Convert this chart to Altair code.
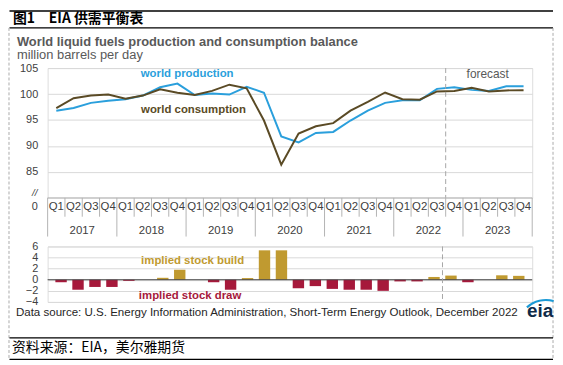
import altair as alt
import pandas as pd

# ---------------- data ----------------
quarters = ["Q1", "Q2", "Q3", "Q4"] * 7
years = ["2017", "2018", "2019", "2020", "2021", "2022", "2023"]
production = [96.8, 97.3, 98.3, 98.7, 99.0, 99.7, 101.3, 102.0,
              99.8, 100.1, 99.9, 101.4, 100.25, 91.85, 90.7, 92.5,
              92.7, 94.9, 96.8, 98.3, 98.8, 98.8, 101.0, 101.3,
              100.8, 100.6, 101.5, 101.5]
consumption = [97.3, 99.2, 99.7, 99.9, 99.1, 99.7, 100.9, 100.25,
               99.8, 100.6, 101.8, 101.1, 94.9, 86.4, 92.4, 93.8,
               94.4, 96.8, 98.5, 100.3, 99.0, 98.9, 100.5, 100.6,
               101.2, 100.5, 100.7, 100.75]
stock_change = [-0.45, -1.8, -1.3, -1.3, -0.2, 0.0, 0.35, 1.8,
                0.0, -0.45, -1.8, 0.3, 5.3, 5.3, -1.55, -1.15,
                -1.65, -1.8, -1.8, -2.0, -0.3, -0.3, 0.5, 0.75,
                -0.45, 0.0, 0.8, 0.7]
y_ticks_top = [85, 90, 95, 100, 105]
y_ticks_bottom = [-4, -2, 0, 2, 4, 6]
forecast_start = [23]

HEADER = "图1　EIA 供需平衡表"
TITLE = "World liquid fuels production and consumption balance"
SUBTITLE = "million barrels per day"
SOURCE = "Data source: U.S. Energy Information Administration, Short-Term Energy Outlook, December 2022"
FOOTER = "资料来源：EIA，美尔雅期货"

BLUE = "#2a9fdc"
BROWN = "#5a4a25"
GOLD = "#c09a30"
CRIMSON = "#a6193b"
GRID = "#d9d9d9"
AXIS = "#b3b3b3"
TXT = "#404040"
FONT = "Liberation Sans"
CJK = "Noto Sans CJK SC"

W, H1, H2 = 489, 131, 56
L, R = -38.5, 510          # left / right page frame (relative to the upper plot)

n = len(quarters)
df = pd.DataFrame({
    "x": [i + 0.5 for i in range(n)],
    "q": quarters,
    "val": stock_change,
    "base": [0] * n,
})
long = pd.concat([
    pd.DataFrame({"x": df["x"], "val": production, "series": "production"}),
    pd.DataFrame({"x": df["x"], "val": consumption, "series": "consumption"}),
])
years_df = pd.DataFrame({"year": years, "x": [4 * k + 2 for k in range(len(years))]})
year_b = pd.DataFrame({"b": [4 * k for k in range(len(years) + 1)]})
q_b = pd.DataFrame({"b": [k for k in range(1, n) if k % 4]})
fc = pd.DataFrame({"b": forecast_start})
one = pd.DataFrame({"a": [0]})

xs = alt.Scale(domain=[0, n], nice=False, zero=False)


def X(f):
    return alt.X(f, type="quantitative", scale=xs, axis=None)


top_axis = alt.Axis(values=y_ticks_top, grid=True, gridColor=GRID, domain=False,
                    ticks=False, labelPadding=10, labelFontSize=11, labelColor=TXT,
                    labelFont=FONT, title=None)
top_scale = alt.Scale(domain=[80, 105], nice=False, zero=False)


def YT(f):
    return alt.Y(f, type="quantitative", scale=top_scale, axis=top_axis)


line_prod = alt.Chart(long).transform_filter(alt.datum.series == "production").mark_line(
    color=BLUE, strokeWidth=2).encode(x=X("x"), y=YT("val"))
line_cons = alt.Chart(long).transform_filter(alt.datum.series == "consumption").mark_line(
    color=BROWN, strokeWidth=2).encode(x=X("x"), y=YT("val"))

ann_top = pd.DataFrame({"t": ["world production", "world consumption"],
                        "x": [8.06, 8.43], "val": [103.85, 97.0],
                        "c": [BLUE, BROWN]})
ann_top_txt = alt.Chart(ann_top).mark_text(font=FONT, fontSize=11.5, fontWeight="bold").encode(
    x=X("x"), y=YT("val"), text="t:N",
    color=alt.Color("c:N", scale=None))
fc_txt = alt.Chart(pd.DataFrame({"t": ["forecast"], "x": [25.43], "val": [103.9]})).mark_text(
    font=FONT, fontSize=12, color="#595959").encode(x=X("x"), y=YT("val"), text="t:N")

fc_rule_top = alt.Chart(fc).mark_rule(color="#a6a6a6", strokeDash=[5, 3]).encode(x=X("b"))
axis_line = alt.Chart(one).mark_rule(color=AXIS).encode(
    x=alt.value(0), x2=alt.value(W), y=alt.value(H1))
q_sep = alt.Chart(q_b).mark_rule(color=AXIS).encode(
    x=X("b"), y=alt.value(H1), y2=alt.value(H1 + 19))
y_sep = alt.Chart(year_b).mark_rule(color=AXIS).encode(
    x=X("b"), y=alt.value(H1), y2=alt.value(H1 + 39))
q_lab = alt.Chart(df).mark_text(font=FONT, fontSize=11.5, color=TXT).encode(
    x=X("x"), y=alt.value(H1 + 9.5), text="q:N")
yr_lab = alt.Chart(years_df).mark_text(font=FONT, fontSize=11.5, color=TXT).encode(
    x=X("x"), y=alt.value(H1 + 33), text="year:N")
zero_lab = alt.Chart(one).mark_text(text="0", font=FONT, fontSize=11, color=TXT, align="right").encode(
    x=alt.value(-10), y=alt.value(H1 + 9))
brk_lab = alt.Chart(one).mark_text(text="//", font=FONT, fontSize=10, fontStyle="italic",
                                   color=TXT, align="center").encode(
    x=alt.value(-13), y=alt.value(H1 - 5))

# page decorations (relative to the upper plot origin)
hline1 = alt.Chart(one).mark_rule(color="black", strokeWidth=1.5).encode(
    x=alt.value(L), x2=alt.value(R), y=alt.value(-57.5))
hline2 = alt.Chart(one).mark_rule(color="black", strokeWidth=1.2).encode(
    x=alt.value(L), x2=alt.value(R), y=alt.value(-40.5))
vdash_l = alt.Chart(one).mark_rule(color="#aaaaaa", strokeDash=[3, 2]).encode(
    x=alt.value(-39), y=alt.value(-40.5), y2=alt.value(294))
vdash_r = alt.Chart(one).mark_rule(color="#aaaaaa", strokeDash=[3, 2]).encode(
    x=alt.value(R), y=alt.value(-40.5), y2=alt.value(294))
header = alt.Chart(one).mark_text(text=HEADER, font=CJK, fontSize=14, fontWeight="bold",
                                  color="black", align="left", baseline="middle").encode(
    x=alt.value(-35), y=alt.value(-49.5))
title = alt.Chart(one).mark_text(text=TITLE, font=FONT, fontSize=13, fontWeight="bold",
                                 color="#595959", align="left", baseline="middle").encode(
    x=alt.value(-31), y=alt.value(-26))
subtitle = alt.Chart(one).mark_text(text=SUBTITLE, font=FONT, fontSize=13,
                                    color="#595959", align="left", baseline="middle").encode(
    x=alt.value(-31), y=alt.value(-13))

upper = alt.layer(
    line_prod, line_cons,
    hline1, hline2, vdash_l, vdash_r, header, title, subtitle,
    fc_rule_top, axis_line, q_sep, y_sep, q_lab, yr_lab, zero_lab, brk_lab,
    ann_top_txt, fc_txt,
).properties(width=W, height=H1)

# ---------------- lower panel ----------------
bot_axis = alt.Axis(values=y_ticks_bottom, grid=True, gridColor=GRID, domain=False,
                    ticks=False, labelPadding=10, labelFontSize=11, labelColor=TXT,
                    labelFont=FONT, title=None)
bot_scale = alt.Scale(domain=[-4, 6], nice=False, zero=False)


def YB(f):
    return alt.Y(f, type="quantitative", scale=bot_scale, axis=bot_axis)


bars = alt.Chart(df).mark_bar(size=11.5, orient="vertical").encode(
    x=X("x"),
    y=YB("val"),
    y2="base:Q",
    color=alt.condition("datum.val > 0", alt.value(GOLD), alt.value(CRIMSON)),
)
zero_rule = alt.Chart(pd.DataFrame({"val": [0]})).mark_rule(color="#404040").encode(
    y=YB("val"))
fc_rule_bot = alt.Chart(fc).mark_rule(color="#a6a6a6", strokeDash=[5, 3]).encode(x=X("b"))
ann_bot = pd.DataFrame({"t": ["implied stock  build", "implied stock draw"],
                        "x": [8.26, 8.11], "val": [3.3, -2.9], "c": [GOLD, CRIMSON]})
ann_bot_txt = alt.Chart(ann_bot).mark_text(font=FONT, fontSize=11.5, fontWeight="bold").encode(
    x=X("x"), y=YB("val"), text="t:N", color=alt.Color("c:N", scale=None))

source = alt.Chart(one).mark_text(text=SOURCE, font=FONT, fontSize=11.65, color="#262626",
                                  align="left", baseline="middle").encode(
    x=alt.value(-32), y=alt.value(67.5))
eia = alt.Chart(one).mark_text(text="eia", font=FONT, fontSize=19, fontWeight="bold",
                               color="#0e2a47", align="center", baseline="alphabetic").encode(
    x=alt.value(497), y=alt.value(71))
eia_arc = alt.Chart(one).mark_arc(color="#1b9ad6").encode(
    x=alt.value(503), y=alt.value(83), radius=alt.value(30), radius2=alt.value(27.8),
    theta=alt.value(5.55), theta2=alt.value(6.55))
fline1 = alt.Chart(one).mark_rule(color="black", strokeWidth=1.2).encode(
    x=alt.value(L), x2=alt.value(R), y=alt.value(92.3))
fline2 = alt.Chart(one).mark_rule(color="black", strokeWidth=1.2).encode(
    x=alt.value(L), x2=alt.value(R), y=alt.value(114))
footer = alt.Chart(one).mark_text(text=FOOTER, font=CJK, fontSize=14, color="black",
                                  align="left", baseline="middle").encode(
    x=alt.value(-36), y=alt.value(103))

lower = alt.layer(
    bars, zero_rule, fc_rule_bot, ann_bot_txt, source, eia_arc, eia, fline1, fline2, footer
).properties(width=W, height=H2)

chart = alt.vconcat(upper, lower, spacing=49, bounds="flush").properties(
    padding=0
).configure_view(stroke=GRID).configure(font=FONT)

chart.save("out.html", embed_options={"renderer": "svg", "actions": False})
